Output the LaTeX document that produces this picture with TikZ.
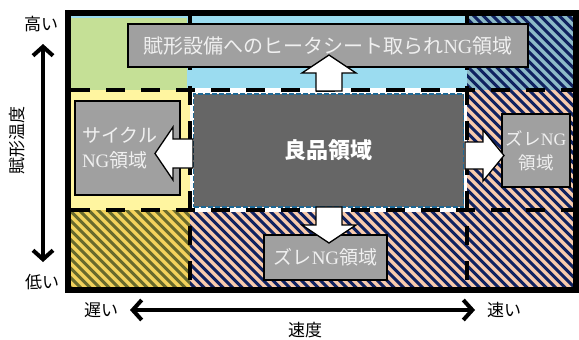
\documentclass[tikz,border=0pt]{standalone}
\usepackage{fontspec}
\setmainfont{Noto Sans CJK JP}
\newfontfamily\latfont{Liberation Serif}
\newcommand\lat[1]{{\latfont #1}}
\usetikzlibrary{arrows.meta}
\definecolor{lblue}{RGB}{155,220,240}
\definecolor{lgreen}{RGB}{197,224,150}
\definecolor{lyellow}{RGB}{255,245,160}
\definecolor{dyellow}{RGB}{242,210,92}
\definecolor{olive}{RGB}{104,106,44}
\definecolor{peach}{RGB}{248,203,173}
\definecolor{navy}{RGB}{16,34,96}
\definecolor{tealgray}{RGB}{140,186,200}
\definecolor{boxgray}{RGB}{160,160,160}
\definecolor{dgray}{RGB}{102,102,102}
\definecolor{bdash}{RGB}{30,105,150}
\definecolor{boxtext}{RGB}{240,240,240}
\newcommand\hatchregion[4]{%
  \fill[#1] #3 rectangle #4;
  \begin{scope}
    \clip #3 rectangle #4;
    \foreach \i in {0,...,100}{\draw[#2,line width=3pt] ({\i*9.5-340},0) -- ({\i*9.5},340);}
  \end{scope}}
\tikzset{
  graybox/.style={fill=boxgray,draw=black,line width=1.3pt,text=boxtext,inner sep=0pt},
  blockarrow/.style={fill=white,draw=black,line width=1.3pt,line join=miter},
  griddash/.style={line width=4.5pt,dash pattern=on 19pt off 16pt},
  axislabel/.style={font=\fontsize{17}{20}\selectfont,inner sep=0pt},
  axis/.style={line width=4pt,line cap=round,arrows={Straight Barb[length=9pt,width=20pt]-Straight Barb[length=9pt,width=20pt]}}
}
\begin{document}
\begin{tikzpicture}[x=1pt,y=-1pt]
\useasboundingbox (0,0) rectangle (579,340);
% backgrounds
\fill[lblue] (71,16) rectangle (467,90);
\fill[lgreen] (71,18) rectangle (187,90);
\hatchregion{tealgray}{navy}{(467,16)}{(573,90)}
\fill[lyellow] (71,90) rectangle (190,210);
\hatchregion{peach}{navy}{(467,90)}{(573,210)}
\hatchregion{dyellow}{olive}{(71,210)}{(190,287)}
\hatchregion{peach}{navy}{(190,210)}{(573,287)}
% centre region
\fill[white] (190,88) rectangle (467,212);
\node[fill=dgray,draw=bdash,line width=1.4pt,dash pattern=on 5pt off 2pt,
  minimum width=270pt,minimum height=113pt,inner sep=0pt,text=white,
  font=\fontsize{22}{24}\selectfont\bfseries] (good) at (328.5,150.5) {良品領域};
% grid lines
\draw[griddash] (71,90) -- (573,90);
\draw[griddash] (71,210) -- (573,210);
\draw[griddash] (190,16) -- (190,287);
\draw[griddash] (467,16) -- (467,287);
% frame
\draw[line width=6pt] (68,13) rectangle (576,290);
% boxes
\node[graybox,minimum width=400pt,minimum height=43pt,font=\fontsize{20}{22}\selectfont] (topbox) at (328,45.5) {賦形設備へのヒータシート取られ\lat{NG}領域};
\node[graybox,text width=91pt,minimum height=94pt,inner xsep=7pt,align=left,font=\fontsize{19}{25}\selectfont] (leftbox) at (127.5,148) {サイクル\\\lat{NG}領域};
\node[graybox,minimum width=68pt,minimum height=73pt,align=center,font=\fontsize{17.5}{24}\selectfont] (rightbox) at (536,150.5) {ズレ\lat{NG}\\領域};
\node[graybox,minimum width=123pt,minimum height=45pt,font=\fontsize{19}{22}\selectfont] (botbox) at (325.5,257.5) {ズレ\lat{NG}領域};
% block arrows
\draw[blockarrow] (316,91) -- (316,73) -- (302,73) -- (329,55) -- (356,73) -- (342,73) -- (342,91) -- cycle;
\draw[blockarrow] (316,207) -- (316,225) -- (302,225) -- (329,243) -- (356,225) -- (342,225) -- (342,207) -- cycle;
\draw[blockarrow] (193,139) -- (173,139) -- (173,127) -- (155,153.5) -- (173,180) -- (173,168) -- (193,168) -- cycle;
\draw[blockarrow] (465,142) -- (483,142) -- (483,130) -- (504,155.5) -- (483,181) -- (483,169) -- (465,169) -- cycle;
% axes
\coordinate (vtop) at (43,44);
\coordinate (vbot) at (43,262);
\coordinate (hleft) at (130,310);
\coordinate (hright) at (475,310);
\draw[axis] (vbot) -- (vtop);
\draw[axis] (hleft) -- (hright);
\node[axislabel] (high) at (41,24) {高い};
\node[axislabel] (low) at (42,282) {低い};
\node[axislabel,rotate=90] (temp) at (17,140) {賦形温度};
\node[axislabel] (slow) at (101,310) {遅い};
\node[axislabel] (fast) at (504,310) {速い};
\node[axislabel] (speed) at (305,330) {速度};
\end{tikzpicture}
\end{document}
